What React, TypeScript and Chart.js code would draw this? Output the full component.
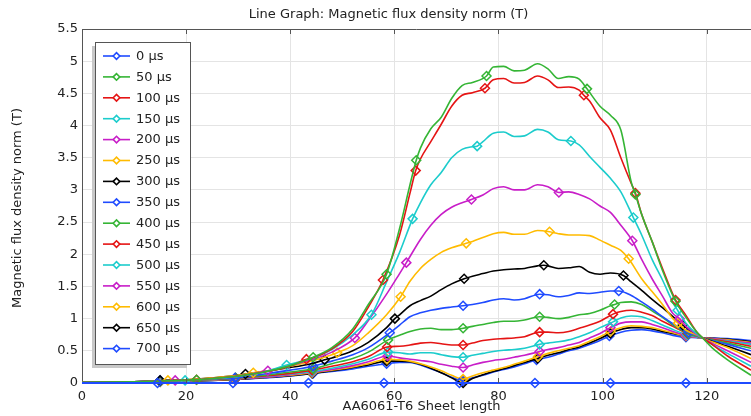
import { useEffect, useRef } from 'react';
import { Chart, registerables } from 'chart.js';

Chart.register(...registerables);

const FONT = '"DejaVu Sans", "Liberation Sans", sans-serif';

// shared x grid (sheet length)
const xs = [0, 10, 15, 20, 25, 30, 35, 40, 44, 48, 52, 55, 58.5, 61, 63, 65, 67, 69, 71, 73, 75, 77, 79, 81, 83, 85, 87.5, 89.5, 91.5, 93.5, 95.5, 97.5, 99.5, 101.5, 103.5, 105.5, 107.5, 109.5, 111.5, 113.5, 116, 118, 119.2, 121, 124, 128.5];

const labels = ['0 µs', '50 µs', '100 µs', '150 µs', '200 µs', '250 µs', '300 µs', '350 µs', '400 µs', '450 µs', '500 µs', '550 µs', '600 µs', '650 µs', '700 µs'];
const colors = ['#1f4bff', '#35b535', '#e51414', '#1ccccc', '#c81ec8', '#ffbb00', '#000000', '#1f4bff', '#35b535', '#e51414', '#1ccccc', '#c81ec8', '#ffbb00', '#000000', '#1f4bff'];

// 0 µs (flat)
const x0us = [0, 128.5];
const v0us = [0, 0];

const v50us = [0.01, 0.02, 0.03, 0.045, 0.07, 0.11, 0.17, 0.27, 0.39, 0.55, 0.84, 1.22, 1.69, 2.4, 3.08, 3.65, 3.95, 4.13, 4.42, 4.62, 4.67, 4.71, 4.91, 4.92, 4.85, 4.86, 4.96, 4.88, 4.73, 4.76, 4.72, 4.52, 4.3, 4.16, 3.93, 3.12, 2.62, 2.2, 1.75, 1.38, 1.02, 0.8, 0.7, 0.55, 0.36, 0.12];
const v100us = [0.01, 0.02, 0.03, 0.045, 0.07, 0.11, 0.17, 0.26, 0.38, 0.53, 0.8, 1.18, 1.63, 2.3, 2.95, 3.48, 3.75, 4.02, 4.3, 4.47, 4.51, 4.55, 4.71, 4.73, 4.66, 4.67, 4.77, 4.71, 4.59, 4.6, 4.55, 4.38, 4.12, 3.93, 3.5, 3.1, 2.62, 2.2, 1.78, 1.38, 1.05, 0.8, 0.7, 0.6, 0.42, 0.2];
const v150us = [0.01, 0.02, 0.03, 0.04, 0.065, 0.1, 0.17, 0.29, 0.38, 0.52, 0.75, 0.98, 1.57, 2.03, 2.42, 2.8, 3.08, 3.27, 3.5, 3.63, 3.67, 3.75, 3.88, 3.9, 3.83, 3.84, 3.94, 3.9, 3.78, 3.76, 3.7, 3.52, 3.35, 3.18, 2.97, 2.65, 2.3, 1.92, 1.6, 1.25, 0.93, 0.77, 0.7, 0.6, 0.46, 0.26];
const v200us = [0.01, 0.02, 0.03, 0.045, 0.07, 0.11, 0.18, 0.27, 0.36, 0.48, 0.67, 0.97, 1.38, 1.7, 1.96, 2.23, 2.45, 2.62, 2.73, 2.8, 2.86, 2.92, 3.02, 3.05, 3.0, 3.0, 3.08, 3.05, 2.96, 2.97, 2.93, 2.86, 2.75, 2.65, 2.45, 2.24, 1.92, 1.62, 1.35, 1.08, 0.88, 0.76, 0.7, 0.62, 0.5, 0.32];
const v250us = [0.01, 0.02, 0.035, 0.05, 0.08, 0.12, 0.18, 0.26, 0.34, 0.44, 0.58, 0.78, 1.06, 1.32, 1.58, 1.78, 1.92, 2.03, 2.1, 2.15, 2.2, 2.26, 2.32, 2.34, 2.31, 2.31, 2.37, 2.35, 2.32, 2.3, 2.3, 2.29, 2.22, 2.14, 2.06, 1.88, 1.62, 1.42, 1.22, 1.0, 0.82, 0.75, 0.7, 0.64, 0.55, 0.38];
const v300us = [0.01, 0.02, 0.035, 0.05, 0.08, 0.12, 0.18, 0.24, 0.3, 0.39, 0.5, 0.63, 0.86, 1.06, 1.2, 1.28, 1.35, 1.45, 1.54, 1.61, 1.66, 1.7, 1.74, 1.76, 1.77, 1.78, 1.82, 1.82, 1.78, 1.79, 1.81, 1.72, 1.69, 1.71, 1.68, 1.57, 1.44, 1.3, 1.17, 1.03, 0.86, 0.76, 0.7, 0.65, 0.57, 0.44];
const v350us = [0.01, 0.02, 0.035, 0.045, 0.065, 0.09, 0.14, 0.2, 0.26, 0.34, 0.44, 0.55, 0.74, 0.9, 1.03, 1.09, 1.13, 1.16, 1.18, 1.2, 1.22, 1.25, 1.29, 1.31, 1.29, 1.31, 1.37, 1.37, 1.34, 1.36, 1.4, 1.39, 1.41, 1.43, 1.42, 1.36, 1.26, 1.15, 1.03, 0.92, 0.8, 0.74, 0.7, 0.66, 0.6, 0.5];
const v400us = [0.01, 0.02, 0.03, 0.04, 0.06, 0.085, 0.12, 0.17, 0.22, 0.3, 0.38, 0.48, 0.65, 0.74, 0.8, 0.84, 0.85, 0.83, 0.83, 0.85, 0.88, 0.91, 0.94, 0.96, 0.96, 0.98, 1.02, 1.02, 1.0, 1.02, 1.06, 1.08, 1.13, 1.2, 1.25, 1.26, 1.22, 1.12, 1.02, 0.9, 0.78, 0.73, 0.7, 0.67, 0.62, 0.54];
const v450us = [0.01, 0.015, 0.03, 0.04, 0.055, 0.08, 0.11, 0.15, 0.2, 0.26, 0.33, 0.41, 0.56, 0.57, 0.59, 0.62, 0.63, 0.61, 0.59, 0.59, 0.62, 0.66, 0.68, 0.69, 0.7, 0.72, 0.78, 0.79, 0.78, 0.8, 0.85, 0.9, 0.96, 1.05, 1.11, 1.13, 1.1, 1.05, 0.96, 0.88, 0.78, 0.73, 0.7, 0.68, 0.64, 0.57];
const v500us = [0.01, 0.015, 0.025, 0.035, 0.05, 0.07, 0.1, 0.14, 0.18, 0.23, 0.3, 0.37, 0.48, 0.47, 0.45, 0.47, 0.47, 0.44, 0.41, 0.4, 0.43, 0.46, 0.49, 0.51, 0.52, 0.54, 0.6, 0.62, 0.64, 0.67, 0.72, 0.78, 0.86, 0.94, 1.01, 1.04, 1.03, 0.97, 0.9, 0.83, 0.76, 0.72, 0.7, 0.68, 0.65, 0.6];
const v550us = [0.01, 0.015, 0.025, 0.035, 0.05, 0.07, 0.09, 0.13, 0.17, 0.21, 0.27, 0.33, 0.42, 0.39, 0.37, 0.35, 0.33, 0.29, 0.26, 0.24, 0.28, 0.32, 0.35, 0.37, 0.4, 0.43, 0.49, 0.52, 0.55, 0.59, 0.63, 0.7, 0.77, 0.86, 0.93, 0.95, 0.95, 0.91, 0.86, 0.8, 0.74, 0.71, 0.7, 0.69, 0.66, 0.62];
const v600us = [0.01, 0.01, 0.02, 0.03, 0.045, 0.065, 0.09, 0.12, 0.16, 0.2, 0.25, 0.3, 0.37, 0.36, 0.34, 0.3, 0.25, 0.19, 0.12, 0.06, 0.11, 0.16, 0.2, 0.24, 0.29, 0.34, 0.41, 0.46, 0.5, 0.54, 0.58, 0.65, 0.72, 0.8, 0.86, 0.89, 0.88, 0.86, 0.82, 0.78, 0.73, 0.71, 0.7, 0.69, 0.67, 0.63];
const v650us = [0.005, 0.01, 0.02, 0.03, 0.04, 0.06, 0.085, 0.115, 0.15, 0.19, 0.24, 0.28, 0.34, 0.34, 0.33, 0.29, 0.23, 0.16, 0.08, 0.0, 0.07, 0.13, 0.18, 0.22, 0.27, 0.32, 0.38, 0.43, 0.47, 0.52, 0.56, 0.62, 0.69, 0.77, 0.83, 0.86, 0.86, 0.84, 0.8, 0.77, 0.73, 0.71, 0.7, 0.695, 0.68, 0.64];
const v700us = [0.005, 0.01, 0.02, 0.03, 0.04, 0.06, 0.08, 0.11, 0.15, 0.18, 0.22, 0.26, 0.3, 0.32, 0.32, 0.28, 0.22, 0.16, 0.09, 0.03, 0.08, 0.12, 0.17, 0.21, 0.25, 0.3, 0.36, 0.4, 0.45, 0.5, 0.54, 0.6, 0.66, 0.73, 0.79, 0.82, 0.83, 0.81, 0.78, 0.74, 0.71, 0.705, 0.7, 0.7, 0.69, 0.66];

// marker positions [x, value]
const m0us = [[14.5, 0], [29, 0], [43.5, 0], [58, 0], [72.5, 0], [87, 0], [101.5, 0], [116, 0]];
const m50us = [[22, 0.05], [44.4, 0.4], [58.5, 1.69], [64.2, 3.46], [77.7, 4.77], [97, 4.57], [106.3, 2.93], [114, 1.27]];
const m100us = [[22, 0.05], [43.1, 0.37], [57.8, 1.6], [64.1, 3.3], [77.4, 4.58], [96.4, 4.47], [106.3, 2.95], [114, 1.29]];
const m150us = [[19.8, 0.04], [39.3, 0.28], [55.6, 1.06], [63.5, 2.55], [75.9, 3.68], [93.9, 3.76], [105.9, 2.57], [114.4, 1.13]];
const m200us = [[17.9, 0.04], [35.7, 0.19], [52.4, 0.7], [62.3, 1.87], [74.8, 2.85], [91.6, 2.96], [105.7, 2.21], [114.8, 1.0]];
const m250us = [[16.5, 0.04], [32.9, 0.16], [49, 0.47], [61.2, 1.34], [73.8, 2.17], [89.8, 2.35], [105, 1.93], [114.5, 0.93]];
const m300us = [[15, 0.04], [31.4, 0.14], [46.6, 0.36], [60.1, 1.0], [73.4, 1.62], [88.7, 1.83], [104, 1.67], [115.4, 0.9]];
const m350us = [[15, 0.04], [29.4, 0.08], [44.4, 0.26], [59.1, 0.78], [73.2, 1.2], [87.9, 1.38], [103.1, 1.43], [116.5, 0.78]];
const m400us = [[15, 0.03], [29.5, 0.08], [44.4, 0.22], [58.8, 0.67], [73.2, 0.85], [87.9, 1.03], [102.3, 1.22], [116.5, 0.77]];
const m450us = [[15, 0.03], [29.5, 0.075], [44.2, 0.2], [58.6, 0.56], [73.2, 0.59], [87.9, 0.79], [102, 1.07], [116.3, 0.77]];
const m500us = [[15, 0.025], [29.5, 0.07], [44.2, 0.18], [58.8, 0.48], [73.2, 0.4], [87.9, 0.6], [102, 0.95], [116.2, 0.75]];
const m550us = [[15, 0.025], [29.5, 0.065], [44.2, 0.17], [58.7, 0.42], [73.2, 0.24], [87.9, 0.49], [101.5, 0.86], [116, 0.74]];
const m600us = [[15, 0.02], [29.4, 0.06], [44.2, 0.16], [58.6, 0.37], [73.2, 0.06], [87.6, 0.41], [101.5, 0.8], [116, 0.73]];
const m650us = [[15, 0.02], [29.4, 0.055], [44.2, 0.15], [58.5, 0.34], [73.2, 0.0], [87.5, 0.38], [101.5, 0.77], [116, 0.73]];
const m700us = [[15, 0.02], [29.4, 0.055], [44.4, 0.15], [58.5, 0.3], [73.2, 0.03], [87.3, 0.36], [101.3, 0.73], [116, 0.71]];

const xTicks = [0, 20, 40, 60, 80, 100, 120];

type Pt = { x: number; y: number; m: boolean };

function buildPoints(xv: number[], yv: number[], marks: number[][]): Pt[] {
  const pts: Pt[] = xv
    .map((x, i) => ({ x, y: yv[i], m: false }))
    .filter((p) => !marks.some(([mx]) => Math.abs(mx - p.x) < 0.75));
  marks.forEach(([x, y]) => pts.push({ x, y, m: true }));
  pts.sort((a, b) => a.x - b.x);
  return pts;
}

const seriesValues = [v0us, v50us, v100us, v150us, v200us, v250us, v300us, v350us, v400us, v450us, v500us, v550us, v600us, v650us, v700us];
const seriesMarks = [m0us, m50us, m100us, m150us, m200us, m250us, m300us, m350us, m400us, m450us, m500us, m550us, m600us, m650us, m700us];

const decor = {
  id: 'decor',
  afterDatasetsDraw(chart: any) {
    const { ctx, chartArea: a, scales } = chart;
    const xs0 = scales.x;
    ctx.save();
    // top frame
    ctx.strokeStyle = '#555';
    ctx.lineWidth = 1;
    ctx.beginPath();
    ctx.moveTo(a.left, a.top + 0.5);
    ctx.lineTo(a.right, a.top + 0.5);
    ctx.stroke();
    // inner tick marks on top / bottom
    xTicks.forEach((t) => {
      if (t === 0) return;
      const px = Math.round(xs0.getPixelForValue(t)) + 0.5;
      ctx.beginPath();
      ctx.moveTo(px, a.top);
      ctx.lineTo(px, a.top + 5);
      ctx.moveTo(px, a.bottom);
      ctx.lineTo(px, a.bottom - 5);
      ctx.stroke();
    });
    // legend
    const lx = a.left + 13;
    const ly = a.top + 13;
    const lw = 95;
    const lh = 322;
    ctx.fillStyle = '#c8c8c8';
    ctx.fillRect(lx - 3, ly + 4, lw, lh);
    ctx.fillStyle = '#ffffff';
    ctx.fillRect(lx, ly, lw, lh);
    ctx.strokeStyle = '#555';
    ctx.lineWidth = 1;
    ctx.strokeRect(lx + 0.5, ly + 0.5, lw, lh);
    ctx.font = `13px ${FONT}`;
    ctx.textBaseline = 'middle';
    ctx.textAlign = 'left';
    labels.forEach((lab, i) => {
      const y = ly + 14 + i * 20.9;
      const c = colors[i];
      ctx.strokeStyle = c;
      ctx.lineWidth = 1.6;
      ctx.beginPath();
      ctx.moveTo(lx + 8, y);
      ctx.lineTo(lx + 35, y);
      ctx.stroke();
      const cx = lx + 21.5;
      const r = 3.3;
      ctx.fillStyle = '#fff';
      ctx.beginPath();
      ctx.moveTo(cx - r, y);
      ctx.lineTo(cx, y - r);
      ctx.lineTo(cx + r, y);
      ctx.lineTo(cx, y + r);
      ctx.closePath();
      ctx.fill();
      ctx.stroke();
      ctx.fillStyle = '#222';
      ctx.fillText(lab, lx + 41, y + 0.5);
    });
    ctx.restore();
  },
  afterDraw(chart: any) {
    const { ctx, chartArea: a } = chart;
    ctx.save();
    ctx.fillStyle = '#222';
    ctx.font = `13px ${FONT}`;
    ctx.textAlign = 'center';
    ctx.textBaseline = 'middle';
    ctx.fillText('Line Graph: Magnetic flux density norm (T)', (a.left + a.right) / 2 - 28, 15);
    ctx.fillText('AA6061-T6 Sheet length', (a.left + a.right) / 2 + 5, a.bottom + 24);
    ctx.translate(18, (a.top + a.bottom) / 2 + 2);
    ctx.rotate(-Math.PI / 2);
    ctx.fillText('Magnetic flux density norm (T)', 0, 0);
    ctx.restore();
  },
};

export default function App() {
  const ref = useRef<HTMLCanvasElement>(null);
  useEffect(() => {
    const datasets = labels.map((label, i) => {
      const data = i === 0 ? buildPoints(x0us, v0us, seriesMarks[0]) : buildPoints(xs, seriesValues[i], seriesMarks[i]);
      return {
        label,
        data,
        borderColor: colors[i],
        backgroundColor: colors[i],
        borderWidth: i === 0 ? 2 : 1.6,
        pointStyle: 'rectRot' as const,
        pointRadius: (c: any) => (c.raw && c.raw.m ? 4.5 : 0),
        pointHoverRadius: 0,
        pointBorderColor: colors[i],
        pointBackgroundColor: 'rgba(255,255,255,0)',
        pointBorderWidth: 1.5,
        cubicInterpolationMode: 'monotone' as const,
        clip: 6,
      };
    });
    const chart = new Chart(ref.current!, {
      type: 'line',
      data: { datasets },
      plugins: [decor],
      options: {
        animation: false,
        responsive: false,
        events: [],
        layout: { padding: { top: 29, left: 0, right: 0, bottom: 0 } },
        plugins: { legend: { display: false }, title: { display: false }, tooltip: { enabled: false } },
        scales: {
          x: {
            type: 'linear',
            min: 0,
            max: 128.5,
            afterFit: (s: any) => { s.height = 33; },
            afterBuildTicks: (s: any) => { s.ticks = xTicks.map((v) => ({ value: v })); },
            ticks: { stepSize: 20, includeBounds: false, color: '#222', font: { family: FONT, size: 13 }, padding: 6, maxRotation: 0 },
            grid: { color: '#e4e4e4', drawTicks: false },
            border: { display: true, color: '#555', width: 1 },
          },
          y: {
            min: 0,
            max: 5.5,
            afterFit: (s: any) => { s.width = 82; },
            ticks: { stepSize: 0.5, color: '#222', font: { family: FONT, size: 13 }, padding: 4, callback: (v: any) => String(v) },
            grid: { color: '#e4e4e4', drawTicks: false },
            border: { display: true, color: '#555', width: 1 },
          },
        },
      },
    });
    return () => chart.destroy();
  }, []);
  return (
    <div style={{ position: 'fixed', left: 0, top: 0, width: 751, height: 416, background: '#fff' }}>
      <canvas ref={ref} width={751} height={416} style={{ display: 'block' }} />
    </div>
  );
}
